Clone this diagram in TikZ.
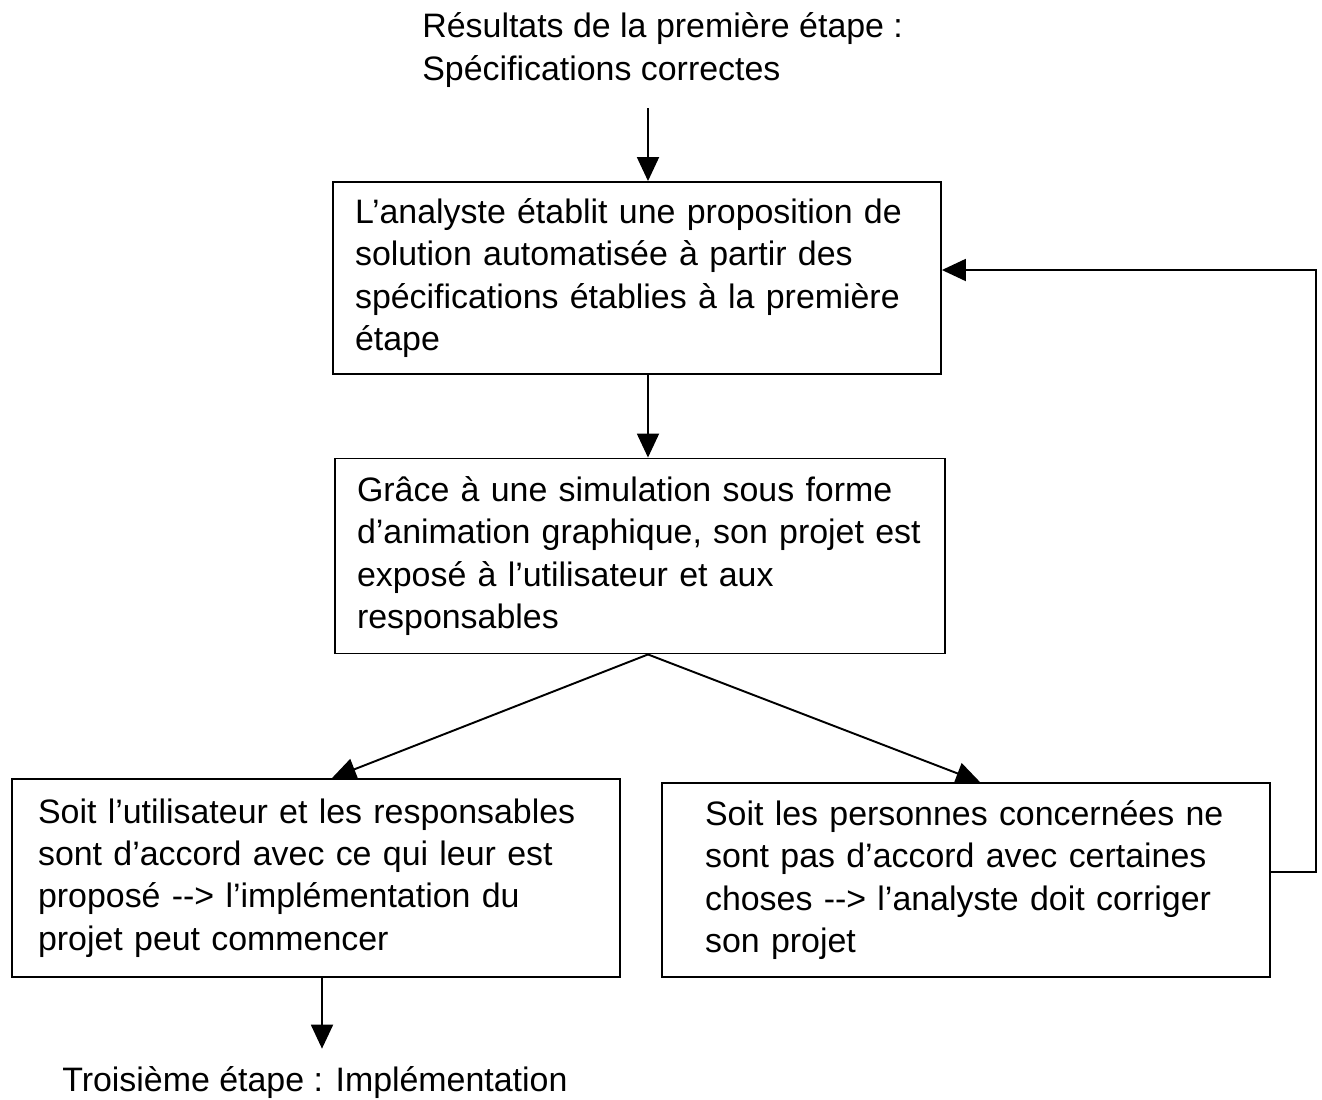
\documentclass[tikz,border=0pt]{standalone}
\usepackage{fontspec}
\setmainfont{Liberation Sans}
\usetikzlibrary{arrows.meta}
\tikzset{
  txt/.style={font=\fontsize{19.3pt}{24pt}\selectfont, align=left, inner sep=0},
  box/.style={txt, draw, line width=1.1pt},
  arr/.style={line width=1.1pt, -{Triangle[width=0.44cm, length=0.48cm]}}
}

\begin{document}
\begin{tikzpicture}[x=0.02cm, y=-0.02cm]
		%%%%% START %%%%%
		\useasboundingbox (0, 0) rectangle (1322, 1099);
		
		\node[txt, anchor=west] (debut) at (422, 50) {R\'esultats de la premi\`ere \'etape :\\Sp\'ecifications correctes};
		
		\node[box, minimum width=12.16cm, minimum height=3.84cm, text width=11.28cm] (proposition) at (637, 278)
		  {L'analyste \'etablit une proposition de\\solution automatis\'ee \`a partir des\\sp\'ecifications \'etablies \`a la premi\`ere\\\'etape};
		
		\node[box, minimum width=12.2cm, minimum height=3.9cm, text width=11.32cm] (simulation) at (640, 556)
		  {Gr\^ace \`a une simulation sous forme\\d'animation graphique, son projet est\\expos\'e \`a l'utilisateur et aux\\responsables};
		
		\node[box, minimum width=12.16cm, minimum height=3.96cm, text width=11.12cm] (accord) at (316, 878)
		  {Soit l'utilisateur et les responsables\\sont d'accord avec ce qui leur est\\propos\'e {-}{-}> l'impl\'ementation du\\projet peut commencer};
		
		\node[box, minimum width=12.16cm, minimum height=3.88cm, text width=10.44cm] (desaccord) at (966, 880)
		  {Soit les personnes concern\'ees ne\\sont pas d'accord avec certaines\\choses {-}{-}> l'analyste doit corriger\\son projet};
		
		\node[txt, anchor=west] (implementation) at (62, 1083) {Troisi\`eme \'etape : Impl\'ementation};
		
		\draw[arr] ([xshift=0.22cm]proposition.north |- 0, 108) -- ([xshift=0.22cm]proposition.north);
		\draw[arr] ([xshift=0.22cm]proposition.south) -- ([xshift=0.22cm]proposition.south |- simulation.north);
		\draw[arr] ([xshift=0.16cm]simulation.south) -- ([xshift=0.32cm]accord.north);
		\draw[arr] ([xshift=0.16cm]simulation.south) -- ([xshift=0.28cm]desaccord.north);
		\draw[arr] ([yshift=0.16cm]desaccord.east) -- ++(45, 0) |- ([yshift=0.16cm]proposition.east);
		\draw[arr] ([xshift=0.12cm]accord.south) -- ([xshift=0.12cm, yshift=0.36cm]accord.south |- implementation.north);
		%%%%% END %%%%%
	\end{tikzpicture}
\end{document}
